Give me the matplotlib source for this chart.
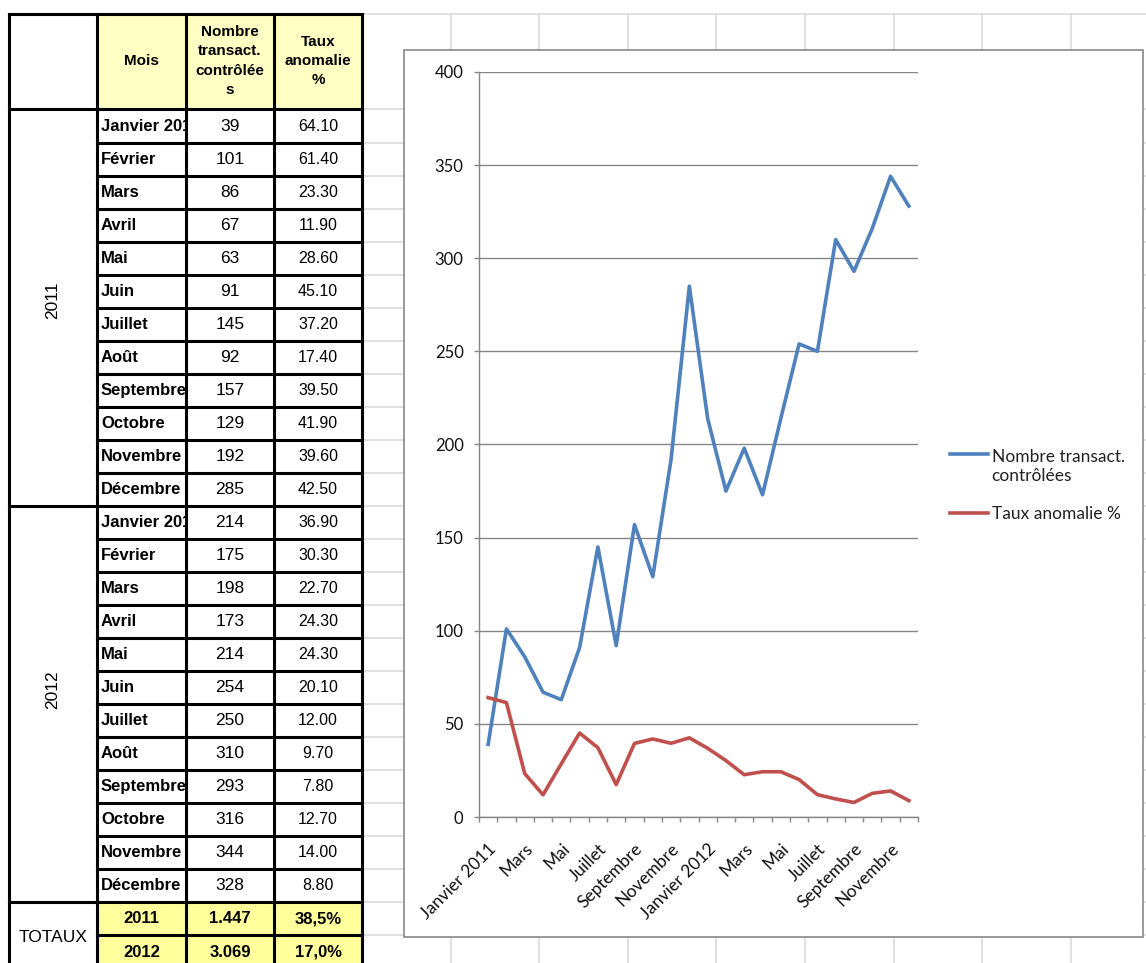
import numpy as np
import matplotlib.pyplot as plt
from matplotlib.patches import Rectangle
from matplotlib.transforms import Bbox, TransformedBbox, ScaledTranslation
from matplotlib.legend_handler import HandlerLine2D

# donnees
mois = ['Janvier 2011', 'Février', 'Mars', 'Avril', 'Mai', 'Juin', 'Juillet', 'Août',
        'Septembre', 'Octobre', 'Novembre', 'Décembre',
        'Janvier 2012', 'Février', 'Mars', 'Avril', 'Mai', 'Juin', 'Juillet', 'Août',
        'Septembre', 'Octobre', 'Novembre', 'Décembre']
nombre = [39, 101, 86, 67, 63, 91, 145, 92, 157, 129, 192, 285,
          214, 175, 198, 173, 214, 254, 250, 310, 293, 316, 344, 328]
taux = [64.10, 61.40, 23.30, 11.90, 28.60, 45.10, 37.20, 17.40, 39.50, 41.90, 39.60, 42.50,
        36.90, 30.30, 22.70, 24.30, 24.30, 20.10, 12.00, 9.70, 7.80, 12.70, 14.00, 8.80]
annees = ['2011', '2012']
totaux_nombre = ['1.447', '3.069']
totaux_taux = ['38,5%', '17,0%']
entetes = ['Mois', 'Nombre\ntransact.\ncontrôlée\ns', 'Taux\nanomalie\n%']
serie_labels = ['Nombre transact.\ncontrôlées', 'Taux anomalie %']

W, H = 1146, 963
bleu, rouge = '#4F81BD', '#C0504D'
jaune_tete, jaune_tot = '#FFFFC4', '#FFFF9C'
TF = 'Liberation Sans'

fig = plt.figure(figsize=(W/100, H/100), dpi=100)
fig.patch.set_facecolor('white')

# fond "tableur" en pixels
ax0 = fig.add_axes([0, 0, 1, 1])
ax0.set_xlim(0, W)
ax0.set_ylim(H, 0)
ax0.axis('off')

cols = [9, 97, 186, 274, 362]
top, y_head = 14, 109.5
rh = 33.04
n = len(mois)
row_y = [y_head + rh*i for i in range(n + 3)]

# quadrillage gris
for k in range(1, 10):
    gx = cols[-1] + 88.6*k
    ax0.plot([gx, gx], [top, H], color='#D9D9D9', lw=1.1, zorder=1)
for gy in [top] + row_y:
    ax0.plot([cols[-1], W], [gy, gy], color='#D9D9D9', lw=1.1, zorder=1)

# remplissages jaunes
for j in range(1, 4):
    ax0.add_patch(Rectangle((cols[j], top), cols[j+1]-cols[j], y_head-top,
                            facecolor=jaune_tete, edgecolor='none', zorder=2))
    ax0.add_patch(Rectangle((cols[j], row_y[n]), cols[j+1]-cols[j], H-row_y[n],
                            facecolor=jaune_tot, edgecolor='none', zorder=2))

# bordures
lw_b = 2.2
for x in cols:
    ax0.plot([x, x], [top, H+5], color='black', lw=lw_b, zorder=4, solid_capstyle='projecting')
ax0.plot([cols[0], cols[-1]], [top, top], color='black', lw=lw_b, zorder=4)
for i, y in enumerate(row_y[:n+2]):
    x0 = cols[0] if i in (0, 12, 24) else cols[1]
    ax0.plot([x0, cols[-1]], [y, y], color='black', lw=lw_b, zorder=4)

# en-tetes
for j, t in enumerate(entetes):
    xc = (cols[j+1] + cols[j+2]) / 2
    ax0.text(xc, 61, t, ha='center', va='center', family=TF, fontweight='bold',
             fontsize=11, linespacing=1.5, zorder=5)

# lignes du tableau
for i in range(n):
    yc = row_y[i] + rh/2
    t = ax0.text(cols[1] + 4, yc, mois[i], ha='left', va='center', family=TF,
                 fontweight='bold', fontsize=12, zorder=5, clip_on=True)
    t.set_clip_path(None)
    t.set_clip_box(TransformedBbox(Bbox([[cols[1], row_y[i]], [cols[2] - 1.5, row_y[i] + rh]]),
                                   ax0.transData))
    ax0.text((cols[2]+cols[3])/2, yc, str(nombre[i]), ha='center', va='center',
             family=TF, fontsize=12.5, zorder=5)
    ax0.text((cols[3]+cols[4])/2, yc, f'{taux[i]:.2f}', ha='center', va='center',
             family=TF, fontsize=11.5, zorder=5)

ax0.text((cols[0]+cols[1])/2, 300, annees[0], rotation=90, ha='center', va='center',
         family=TF, fontsize=12.5, zorder=5)
ax0.text((cols[0]+cols[1])/2, 690, annees[1], rotation=90, ha='center', va='center',
         family=TF, fontsize=12.5, zorder=5)
ax0.text((cols[0]+cols[1])/2, 937, 'TOTAUX', ha='center', va='center',
         family=TF, fontsize=12.5, zorder=5)
for k in range(2):
    yc = row_y[n+k] + rh/2
    for j, t in enumerate([annees[k], totaux_nombre[k], totaux_taux[k]]):
        ax0.text((cols[j+1]+cols[j+2])/2, yc, t, ha='center', va='center', family=TF,
                 fontweight='bold', fontsize=12, zorder=5)

# cadre du graphique
ax0.add_patch(Rectangle((404, 50), 1143-404, 937-50, facecolor='white',
                        edgecolor='#898989', lw=1.2, zorder=3))

# graphique
CF = 'Lato'
ax = fig.add_axes([479/W, 1 - 817/H, (918-479)/W, (817-72)/H])
ax.set_facecolor('none')
x = np.arange(n)
ax.plot(x, nombre, color=bleu, lw=2.6, label=serie_labels[0])
ax.plot(x, taux, color=rouge, lw=2.6, label=serie_labels[1])
ax.set_xlim(-0.5, n - 0.5)
ax.set_ylim(0, 400)
ax.set_yticks(np.arange(0, 401, 50))
ax.yaxis.grid(True, color='#868686', lw=1)
ax.set_axisbelow(True)
ax.set_xticks(np.arange(-0.5, n, 1))
ax.set_xticklabels([])
ax.set_xticks(x[::2], minor=True)
ax.set_xticklabels(mois[::2], minor=True, rotation=45, ha='right', va='top',
                   rotation_mode='anchor', family=CF, fontsize=12.5, color='#111111')
decal = ScaledTranslation(-4/100, 0, fig.dpi_scale_trans)
for lab in ax.get_xticklabels(minor=True):
    lab.set_transform(lab.get_transform() + decal)
ax.tick_params(axis='x', which='major', length=3.6, width=1, color='#868686', direction='out')
ax.tick_params(axis='x', which='minor', length=0, pad=17)
ax.tick_params(axis='y', length=3.6, width=1, color='#868686', pad=7.5, labelsize=12)
for lab in ax.get_yticklabels():
    lab.set_family(CF)
    lab.set_color('#111111')
for s in ['top', 'right']:
    ax.spines[s].set_visible(False)
for s in ['left', 'bottom']:
    ax.spines[s].set_color('#868686')
    ax.spines[s].set_linewidth(1)


class PremiereLigne(HandlerLine2D):
    def create_artists(self, legend, orig_handle, xdescent, ydescent, width, height, fontsize, trans):
        arts = super().create_artists(legend, orig_handle, xdescent, ydescent, width, height, fontsize, trans)
        if '\n' in orig_handle.get_label():
            for a in arts:
                a.set_ydata(np.asarray(a.get_ydata()) + 0.6*fontsize*1.2)
        return arts


hl = ax.get_lines()
fig.legend(handles=hl, loc='upper left', bbox_to_anchor=(950/W, 1 - 449/H),
           frameon=False, prop={'family': CF, 'size': 12.5}, handlelength=2.2,
           handletextpad=0.2, labelspacing=1.3, borderpad=0, borderaxespad=0,
           handler_map={hl[0]: PremiereLigne(), hl[1]: PremiereLigne()},
           labelcolor='#222222')

fig.savefig('out.png', dpi=100)
